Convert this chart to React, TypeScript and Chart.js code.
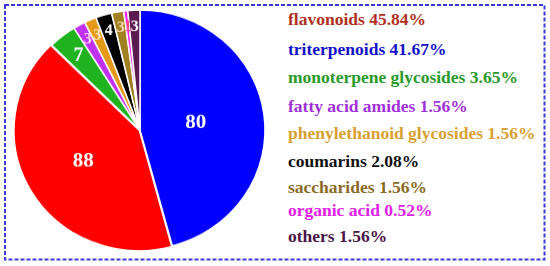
import React, { useEffect, useRef } from "react";
import { Chart, registerables } from "chart.js";

Chart.register(...registerables);

// ---- data ----
const categories = [
  "triterpenoids",
  "flavonoids",
  "monoterpene glycosides",
  "fatty acid amides",
  "phenylethanoid glycosides",
  "coumarins",
  "saccharides",
  "organic acid",
  "others",
];
// slice sizes as drawn in the figure (the blue slice is drawn with the larger share)
const sliceValues = [88, 80, 7, 3, 3, 4, 3, 1, 3];
// count labels printed on the slices
const sliceLabels = ["80", "88", "7", "3", "3", "4", "3", "1", "3"];

const legendLabels = [
  "flavonoids",
  "triterpenoids",
  "monoterpene glycosides",
  "fatty acid amides",
  "phenylethanoid glycosides",
  "coumarins",
  "saccharides",
  "organic acid",
  "others",
];
const legendPercents = ["45.84%", "41.67%", "3.65%", "1.56%", "1.56%", "2.08%", "1.56%", "0.52%", "1.56%"];

// ---- styles ----
const sliceColors = ["#0000ff", "#ff0000", "#1fb41f", "#c030f0", "#e49a18", "#000000", "#a08020", "#ff22ee", "#5a1a50"];
const sliceOffsets = [0, 3, 0, 0, 0, 0, 0, 0, 0];
const labelRadiusFrac = [0.45, 0.5, 0.79, 0.86, 0.86, 0.86, 0.86, 0.86, 0.86];
const labelFontSizes = [21, 21, 20, 16, 16, 16, 16, 16, 16];
const labelColors = ["#ffffff", "#ffffff", "#ffffff", "#ffd6f0", "#ffe6c0", "#ffffff", "#ffd8b0", "#ff4d90", "#ffffff"];
const legendColors = ["#b0301e", "#1212c8", "#2a9a2a", "#a030d8", "#d8a030", "#111111", "#8b6a25", "#e020e8", "#4a1448"];
const legendBaselines = [25, 55, 83, 112, 139, 167, 193, 216, 242];

const labelPlugin = {
  id: "sliceLabels",
  afterDatasetsDraw(chart: any) {
    const ctx = chart.ctx;
    const meta = chart.getDatasetMeta(0);
    meta.data.forEach((arc: any, i: number) => {
      const p = arc.getProps(["x", "y", "startAngle", "endAngle", "outerRadius"], true);
      const mid = (p.startAngle + p.endAngle) / 2;
      const r = p.outerRadius * labelRadiusFrac[i] + sliceOffsets[i];
      const x = p.x + Math.cos(mid) * r;
      const y = p.y + Math.sin(mid) * r;
      ctx.save();
      ctx.fillStyle = labelColors[i];
      ctx.font = `bold ${labelFontSizes[i]}px "Liberation Serif", "Times New Roman", serif`;
      ctx.textAlign = "center";
      ctx.textBaseline = "middle";
      ctx.fillText(sliceLabels[i], x, y);
      ctx.restore();
    });
  },
};

export default function App() {
  const ref = useRef<HTMLCanvasElement | null>(null);

  useEffect(() => {
    if (!ref.current) return;
    const chart = new Chart(ref.current, {
      type: "pie",
      data: {
        labels: categories,
        datasets: [
          {
            data: sliceValues,
            backgroundColor: sliceColors,
            borderColor: "#ffffff",
            borderWidth: 1.5,
            offset: sliceOffsets,
          },
        ],
      },
      options: {
        responsive: false,
        animation: false,
        devicePixelRatio: 1,
        radius: 125,
        layout: { padding: 0 },
        plugins: {
          legend: { display: false },
          tooltip: { enabled: false },
        },
      },
      plugins: [labelPlugin],
    });
    return () => chart.destroy();
  }, []);

  return (
    <div
      style={{
        position: "absolute",
        left: 0,
        top: 0,
        width: 550,
        height: 266,
        background: "#ffffff",
        overflow: "hidden",
      }}
    >
      <div
        style={{
          position: "absolute",
          left: 5,
          top: -3,
          width: 270,
          height: 266,
          transform: "scaleY(0.96)",
          transformOrigin: "135px 133px",
        }}
      >
        <canvas ref={ref} width={270} height={266} style={{ width: 270, height: 266, display: "block" }} />
      </div>
      {legendLabels.map((lab, i) => (
        <div
          key={lab}
          style={{
            position: "absolute",
            left: 288,
            top: legendBaselines[i] - 16,
            height: 20,
            lineHeight: "20px",
            whiteSpace: "nowrap",
            fontFamily: '"Liberation Serif", "Times New Roman", serif',
            fontWeight: "bold",
            fontSize: 17.5,
            color: legendColors[i],
          }}
        >
          {lab} {legendPercents[i]}
        </div>
      ))}
      <svg
        width={550}
        height={266}
        style={{ position: "absolute", left: 0, top: 0, pointerEvents: "none" }}
      >
        <rect
          x={5}
          y={5}
          width={539.5}
          height={254.5}
          fill="none"
          stroke="#3a3ad8"
          strokeWidth={2}
          strokeDasharray="4 2"
        />
      </svg>
    </div>
  );
}
